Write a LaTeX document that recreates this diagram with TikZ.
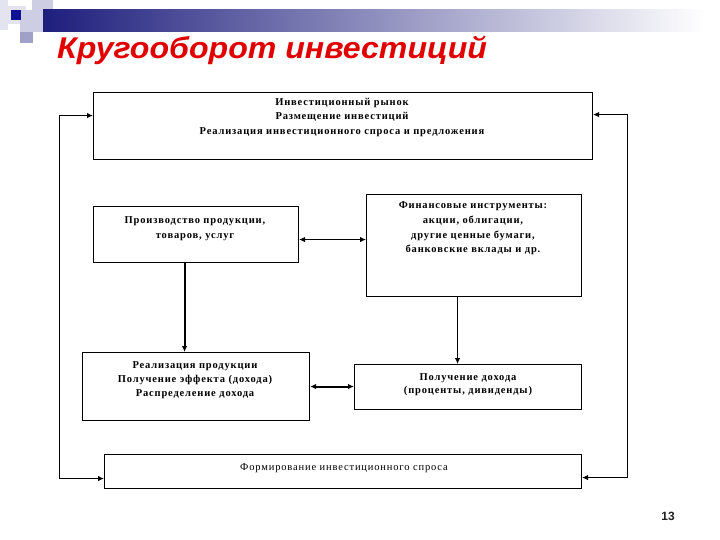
\documentclass[tikz,border=0pt]{standalone}
\usepackage{fontspec}
\setmainfont{Liberation Serif}
\newfontfamily\titlefont{Liberation Sans}[FakeStretch=1.07]
\newfontfamily\numfont{Liberation Sans}
\newfontfamily\boxfont{Liberation Serif}[LetterSpace=8]
\usetikzlibrary{arrows.meta}
\definecolor{navy}{RGB}{30,30,125}
\definecolor{titlered}{RGB}{225,0,0}
\definecolor{lav}{RGB}{205,205,228}
\definecolor{lavlight}{RGB}{228,228,240}
\definecolor{lavmid}{RGB}{160,160,200}
\definecolor{sqblue}{RGB}{16,16,150}
\begin{document}
\begin{tikzpicture}[x=1pt,y=-1pt,
  box/.style={draw, line width=1.1pt, inner sep=0pt, anchor=north west},
  txt/.style={anchor=base, inner sep=0pt, font=\boxfont\bfseries\fontsize{10.5}{12}\selectfont},
  txtreg/.style={anchor=base, inner sep=0pt, font=\boxfont\fontsize{10.5}{12}\selectfont},
  tipA/.style={line width=1pt, -{Latex[length=6pt,width=5.5pt]}},
  tipB/.style={line width=1pt, {Latex[length=6pt,width=5.5pt]}-{Latex[length=6pt,width=5.5pt]}},
  thickA/.style={line width=2pt, -{Latex[length=6pt,width=5.5pt]}},
  thickB/.style={line width=2pt, {Latex[length=6pt,width=5.5pt]}-{Latex[length=6pt,width=5.5pt]}}
]
\useasboundingbox[fill=white] (0,0) rectangle (720,540);
% header decoration
\fill[lavlight] (0,0) rectangle (8,30);
\fill[lav] (32,0) rectangle (53,10);
\fill[lavlight] (6,6) rectangle (26,24);
\fill[lavmid] (20,32) rectangle (33,43);
\fill[lav] (20,10) rectangle (43,32);
\shade[left color=navy, right color=white] (43,10) rectangle (705,32);
\fill[sqblue] (11,10) rectangle (21,20);
% title
\node[anchor=base west, inner sep=0pt, text=titlered,
  font=\titlefont\bfseries\itshape\fontsize{30}{36}\selectfont] (title) at (57,59) {Кругооборот инвестиций};
% boxes
\node[box, minimum width=499pt, minimum height=67pt] (T) at (93,92) {};
\node[box, minimum width=205pt, minimum height=56pt] (P) at (93,206) {};
\node[box, minimum width=215pt, minimum height=102pt] (F) at (366,194) {};
\node[box, minimum width=227pt, minimum height=68pt] (R) at (82,352) {};
\node[box, minimum width=227pt, minimum height=45pt] (I) at (354,364) {};
\node[box, minimum width=477pt, minimum height=34pt] (B) at (104,454) {};
% texts
\node[txt] (t1) at (342,105.5) {Инвестиционный рынок};
\node[txt] (t2) at (342,120) {Размещение инвестиций};
\node[txt] (t3) at (342,135) {Реализация инвестиционного спроса и предложения};
\node[txt] (p1) at (195,224) {Производство продукции,};
\node[txt] (p2) at (195,239) {товаров, услуг};
\node[txt] (f1) at (473,209) {Финансовые инструменты:};
\node[txt] (f2) at (473,223.5) {акции, облигации,};
\node[txt] (f3) at (473,238) {другие ценные бумаги,};
\node[txt] (f4) at (473,252) {банковские вклады и др.};
\node[txt] (r1) at (195,368) {Реализация продукции};
\node[txt] (r2) at (195,382) {Получение эффекта (дохода)};
\node[txt] (r3) at (195,396) {Распределение дохода};
\node[txt] (i1) at (468,380) {Получение дохода};
\node[txt] (i2) at (468,393.5) {(проценты, дивиденды)};
\node[txtreg] (b1) at (344,470) {Формирование инвестиционного спроса};
\node[anchor=base, inner sep=0pt, text={rgb,255:red,30;green,30;blue,30},
  font=\numfont\bfseries\fontsize{12}{14}\selectfont] (pg) at (668,520) {13};
% connectors
\coordinate (pa) at ([yshift=-5pt]P.east);
\draw[tipB] (pa) -- (pa -| F.west);
\coordinate (pb) at ([xshift=-11.5pt]P.south);
\draw[thickA] (pb) -- (pb |- R.north);
\draw[thickB] (R.east) -- (R.east -| I.west);
\coordinate (fb) at ([xshift=-16.5pt]F.south);
\draw[tipA] (fb) -- (fb |- I.north);
\coordinate (tl) at ([yshift=10.5pt]T.west);
\coordinate (bl) at ([yshift=-7pt]B.west);
\draw[tipB] (bl) -- ++(-45,0) |- (tl);
\coordinate (tr) at ([yshift=11.5pt]T.east);
\coordinate (br) at ([yshift=-6pt]B.east);
\draw[tipB] (tr) -- ++(34,0) |- (br);
\end{tikzpicture}
\end{document}
